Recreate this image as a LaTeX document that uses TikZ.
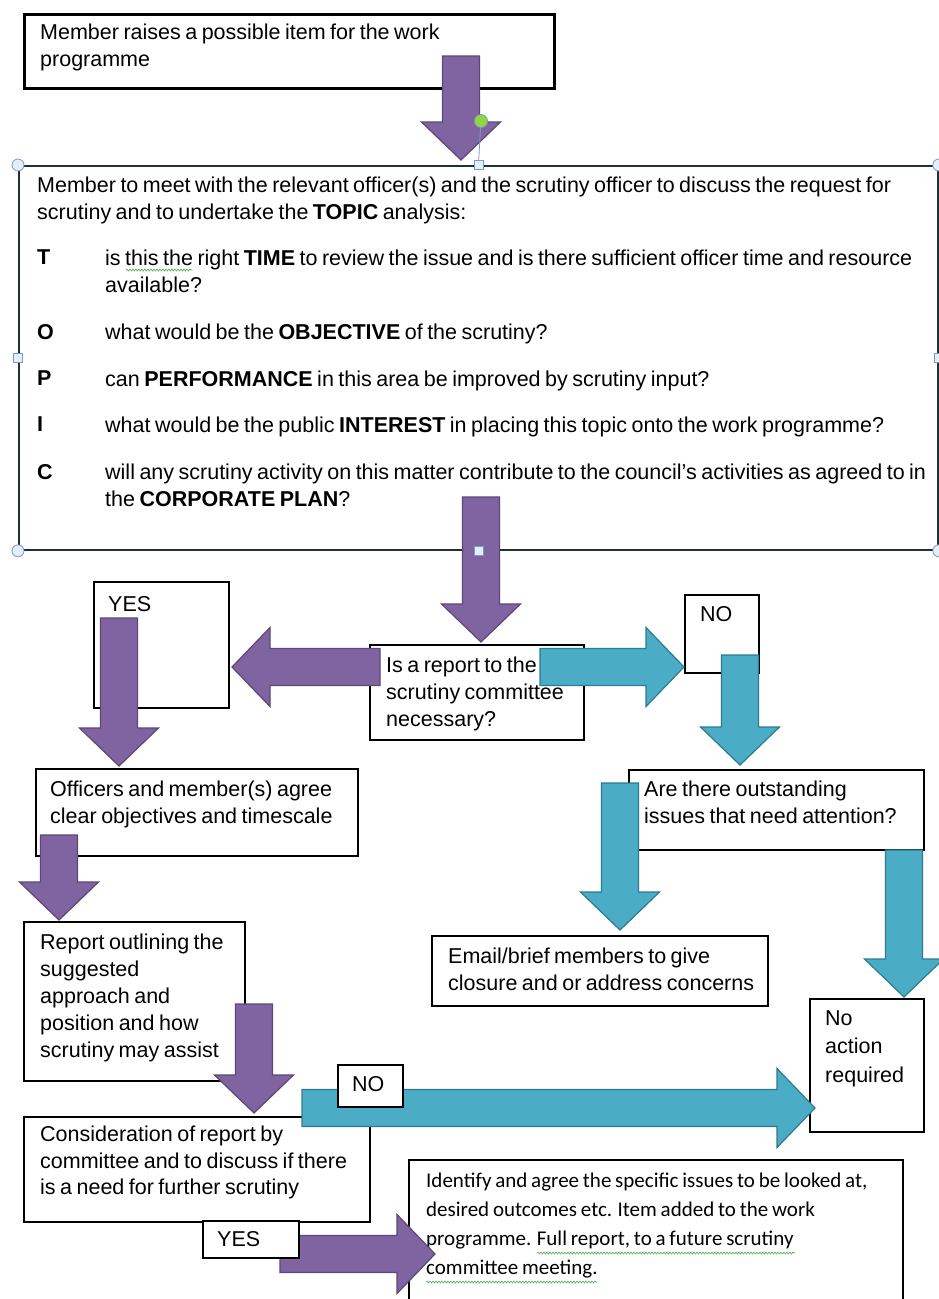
\documentclass[tikz,border=0pt]{standalone}
\usepackage{fontspec}
\setmainfont{Liberation Sans}[WordSpace=0.75]
\newfontfamily\calfont{Carlito}[WordSpace=0.8]
\usetikzlibrary{positioning,calc,decorations.pathmorphing}

\definecolor{purplearr}{HTML}{8064A2}
\definecolor{purpleedge}{HTML}{5C4776}
\definecolor{tealarr}{HTML}{4BACC6}
\definecolor{tealedge}{HTML}{2E7A8F}
\definecolor{frameedge}{HTML}{1F2D3D}
\definecolor{handlefill}{HTML}{E3EEF8}
\definecolor{handleedge}{HTML}{7A9CC0}
\definecolor{rotgreen}{HTML}{8FD640}
\definecolor{squiggle}{HTML}{4CAF50}

% block arrow: style, from, to
\newcommand{\fatarrow}[3]{%
  \path (#3) coordinate (fa-tip) ($(#3)!38pt!(#2)$) coordinate (fa-base);
  \draw[#1] ($(#2)!18.5pt!90:(fa-tip)$) -- ($(fa-base)!18.5pt!90:(fa-tip)$)
    -- ($(fa-base)!39.5pt!90:(fa-tip)$) -- (fa-tip) -- ($(fa-base)!39.5pt!-90:(fa-tip)$)
    -- ($(fa-base)!18.5pt!-90:(fa-tip)$) -- ($(#2)!18.5pt!-90:(fa-tip)$) -- cycle;}

\tikzset{
  box/.style={draw=black, line width=2.2pt, fill=white, inner sep=0pt, anchor=north west},
  txt/.style={inner sep=0pt, anchor=north west, align=left, font=\fontsize{21.5}{27}\selectfont},
  purp/.style={fill=purplearr, draw=purpleedge, line width=1.2pt},
  teal/.style={fill=tealarr, draw=tealedge, line width=1.2pt},
  wavy/.style={draw=squiggle, line width=0.6pt, decorate, decoration={snake, amplitude=1pt, segment length=3pt}},
  hcirc/.style={circle, draw=handleedge, fill=handlefill, minimum size=12pt, inner sep=0pt, line width=0.8pt},
  hsq/.style={rectangle, draw=handleedge, fill=handlefill, minimum size=9pt, inner sep=0pt, line width=0.8pt}
}

\begin{document}
\begin{tikzpicture}[x=1pt,y=-1pt]
\useasboundingbox[fill=white] (0,0) rectangle (939,1299);

% boxes
\node[box, line width=2.6pt, minimum width=530pt, minimum height=74pt] (raise) at (23,13) {};
\node[txt] (raise-txt) at (40,24) {Member raises a possible item for the work\\programme};

\node[box, draw=frameedge, line width=1.8pt, minimum width=919pt, minimum height=384pt] (topic) at (18,165) {};
\node[txt] (topic-intro) at (37,177) {Member to meet with the relevant officer(s) and the scrutiny officer to discuss the request for\\scrutiny and to undertake the \textbf{TOPIC} analysis:};
\foreach \ltr/\ypos in {T/250,O/324,P/371,I/417,C/464}
  \node[txt, font=\bfseries\fontsize{21.5}{27}\selectfont] (topic-\ltr) at (37,\ypos) {\ltr};
\node[txt] (topic-time) at (105,250) {is this the right \textbf{TIME}  to review the issue and is there sufficient officer time and resource\\available?};
\node[txt] (topic-obj) at (105,324) {what would be the \textbf{OBJECTIVE} of the scrutiny?};
\node[txt] (topic-perf) at (105,371) {can \textbf{PERFORMANCE} in this area be improved by scrutiny input?};
\node[txt] (topic-int) at (105,417) {what would be the public \textbf{INTEREST} in placing this topic onto the work programme?};
\node[txt] (topic-corp) at (105,464) {will any scrutiny activity on this matter contribute to the council’s activities as agreed to in\\the \textbf{CORPORATE PLAN}?};

\node[box, minimum width=135pt, minimum height=126pt] (yesbox) at (93,581) {};
\node[txt] (yesbox-txt) at (108,596) {YES};
\node[box, minimum width=214pt, minimum height=95pt] (decide) at (369,644) {};
\node[txt] (decide-txt) at (386,657) {Is a report to the\\scrutiny committee\\necessary?};
\node[box, minimum width=74pt, minimum height=78pt] (nobox) at (684,594) {};
\node[txt] (nobox-txt) at (700,606) {NO};

\node[box, minimum width=322pt, minimum height=87pt] (agree) at (35,768) {};
\node[txt] (agree-txt) at (50,781) {Officers and member(s) agree\\clear objectives and timescale};
\node[box, minimum width=295pt, minimum height=80pt] (issues) at (628,769) {};
\node[txt] (issues-txt) at (644,781) {Are there outstanding\\issues that need attention?};

\node[box, minimum width=221pt, minimum height=159pt] (outline) at (23,921) {};
\node[txt] (outline-txt) at (40,934) {Report outlining the\\suggested\\approach and\\position and how\\scrutiny may assist};
\node[box, minimum width=336pt, minimum height=70pt] (email) at (431,935) {};
\node[txt] (email-txt) at (448,948) {Email/brief members to give\\closure and or address concerns};
\node[box, minimum width=114pt, minimum height=133pt] (noaction) at (809,998) {};
\node[txt, font=\fontsize{21.5}{28.5}\selectfont] (noaction-txt) at (825,1010) {No\\action\\required};

\node[box, minimum width=346pt, minimum height=105pt] (consider) at (23,1116) {};
\node[txt, font=\fontsize{21.5}{26.5}\selectfont] (consider-txt) at (40,1126) {Consideration of report by\\committee and to discuss if there\\is a need for further scrutiny};
\node[box, minimum width=494pt, minimum height=160pt] (identify) at (408,1159) {};
\node[txt, font=\calfont\fontsize{21}{29}\selectfont] (identify-txt) at (426,1173) {Identify and agree the specific issues to be looked at,\\desired outcomes etc.  Item added to the work\\programme. Full report, to a future scrutiny\\committee meeting.};

% spelling squiggles
\draw[wavy] (126,270) -- (192,270);
\draw[wavy] (537,1253) -- (795,1253);
\draw[wavy] (426,1282) -- (597,1282);

% arrow ends
\coordinate (raise-out) at (461,56);     \coordinate (topic-in) at (461,160);
\coordinate (topic-out) at (481,497);    \coordinate (decide-in) at (481,642);
\coordinate (decide-yes) at (380,667);   \coordinate (yesbox-in) at (232,667);
\coordinate (decide-no) at (540,667);    \coordinate (nobox-in) at (684,667);
\coordinate (yesbox-out) at (119,618);   \coordinate (agree-in) at (119,766);
\coordinate (nobox-out) at (740,655);    \coordinate (issues-in) at (740,765);
\coordinate (agree-out) at (59,835);     \coordinate (outline-in) at (59,920);
\coordinate (issues-yes) at (620,783);   \coordinate (email-in) at (620,930);
\coordinate (issues-no) at (904,850);    \coordinate (noaction-top) at (904,997);
\coordinate (outline-out) at (254,1004); \coordinate (consider-in) at (254,1113);
\coordinate (consider-no) at (302,1108); \coordinate (noaction-in) at (815,1108);
\coordinate (consider-yes) at (280,1254);\coordinate (identify-in) at (435,1254);

% block arrows
\fatarrow{purp}{raise-out}{topic-in}
\fatarrow{purp}{topic-out}{decide-in}
\fatarrow{purp}{decide-yes}{yesbox-in}
\fatarrow{teal}{decide-no}{nobox-in}
\fatarrow{purp}{yesbox-out}{agree-in}
\fatarrow{teal}{nobox-out}{issues-in}
\fatarrow{purp}{agree-out}{outline-in}
\fatarrow{teal}{issues-yes}{email-in}
\fatarrow{teal}{issues-no}{noaction-top}
\fatarrow{purp}{outline-out}{consider-in}
\fatarrow{teal}{consider-no}{noaction-in}
\fatarrow{purp}{consider-yes}{identify-in}

% small labels on the arrows
\node[box, minimum width=65pt, minimum height=42pt] (nolabel) at (337,1064) {};
\node[txt] (nolabel-txt) at (352,1076) {NO};
\node[box, minimum width=96pt, minimum height=37pt] (yeslabel) at (202,1220) {};
\node[txt] (yeslabel-txt) at (217,1231) {YES};

% selection handles
\node[hcirc, fill=rotgreen, draw=handleedge, minimum size=13pt] (rot) at (481,121) {};
\draw[handleedge, line width=0.8pt] (rot) -- (topic.north);
\foreach \crn [count=\k] in {north west,north east,south west,south east}
  \node[hcirc] (hc\k) at (topic.\crn) {};
\foreach \sd [count=\k] in {north,south,west,east}
  \node[hsq] (hs\k) at (topic.\sd) {};
\end{tikzpicture}
\end{document}
